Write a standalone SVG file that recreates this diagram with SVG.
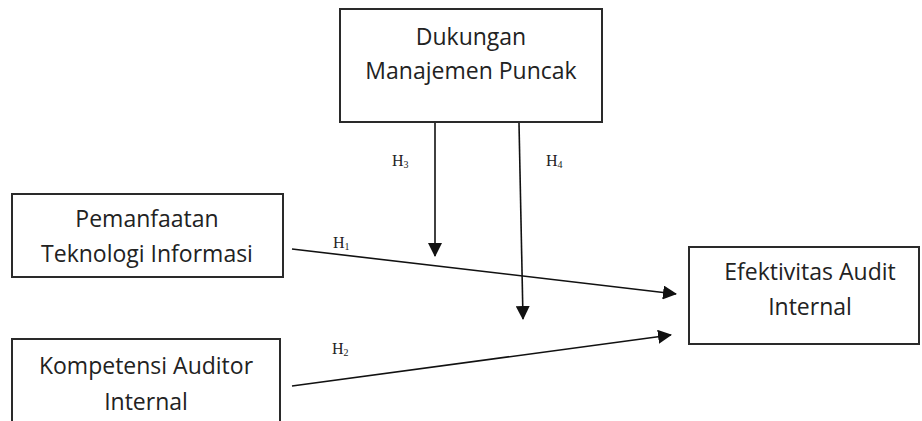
<svg xmlns="http://www.w3.org/2000/svg" width="922" height="421" viewBox="0 0 922 421">
<style>
.box{fill:#fff;stroke:#2a2a2a;stroke-width:2}
.lbl{font-family:"Open Sans","Liberation Sans",sans-serif;font-size:23px;fill:#222;text-anchor:middle}
.h{font-family:"Liberation Serif",serif;font-size:16px;fill:#222}
.con{stroke:#111;stroke-width:1.6;fill:none;marker-end:url(#ah)}
</style>
<defs>
<marker id="ah" markerUnits="userSpaceOnUse" markerWidth="14" markerHeight="14" viewBox="0 0 14 14" refX="13" refY="7" orient="auto">
<path d="M0,0 L14,7 L0,14 Z" fill="#111"/>
</marker>
</defs>
<rect width="922" height="421" fill="#fff"/>
<g id="node-dukungan">
<rect class="box" x="340" y="9" width="262" height="113"/>
<text class="lbl" x="471" y="45">Dukungan</text>
<text class="lbl" x="471" y="79">Manajemen Puncak</text>
</g>
<g id="node-pemanfaatan">
<rect class="box" x="12" y="194" width="271" height="83"/>
<text class="lbl" x="147" y="227">Pemanfaatan</text>
<text class="lbl" x="147" y="262">Teknologi Informasi</text>
</g>
<g id="node-kompetensi">
<rect class="box" x="12" y="339" width="268" height="95"/>
<text class="lbl" x="146" y="374">Kompetensi Auditor</text>
<text class="lbl" x="146" y="410">Internal</text>
</g>
<g id="node-efektivitas">
<rect class="box" x="689" y="247" width="230" height="97"/>
<text class="lbl" x="810" y="280">Efektivitas Audit</text>
<text class="lbl" x="810" y="315">Internal</text>
</g>
<g id="connectors">
<line class="con" x1="435" y1="123" x2="435" y2="256"/>
<line class="con" x1="519" y1="123" x2="523" y2="319"/>
<line class="con" x1="292" y1="249" x2="676" y2="294"/>
<line class="con" x1="292" y1="386" x2="671" y2="335"/>
</g>
<g id="labels">
<text class="h" x="392" y="166">H<tspan font-size="10" dy="2">3</tspan></text>
<text class="h" x="546" y="166">H<tspan font-size="10" dy="2">4</tspan></text>
<text class="h" x="333" y="248">H<tspan font-size="10" dy="2">1</tspan></text>
<text class="h" x="332" y="354">H<tspan font-size="10" dy="2">2</tspan></text>
</g>
</svg>
